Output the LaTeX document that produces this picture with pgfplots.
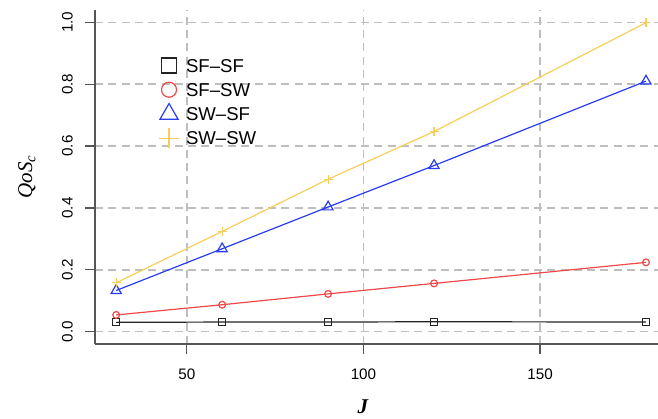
\documentclass[border=0pt]{standalone}
\usepackage{pgfplots}
\pgfplotsset{compat=1.18}
\usepackage{fontspec}
\setmainfont{Liberation Sans}
\newfontfamily\serif{Liberation Serif}
\definecolor{cblack}{RGB}{35,35,35}
\definecolor{cred}{RGB}{240,72,72}
\definecolor{cblue}{RGB}{40,60,245}
\definecolor{cyel}{RGB}{248,205,90}
\definecolor{axgray}{RGB}{85,85,85}
\definecolor{gridgray}{RGB}{190,190,190}
\pgfplotsset{legmark/.style={legend image code/.code={\draw[##1, mark size=#1, overlay] plot coordinates {(0pt,0pt)}; \path[draw=none] (-9pt,0pt) -- (16pt,0pt);}}}
\begin{document}
\begin{tikzpicture}[x=1pt,y=1pt]
\useasboundingbox (0,0) rectangle (658,418);
\begin{axis}[
  at={(95pt,74pt)}, anchor=south west,
  scale only axis, width=563pt, height=334pt,
  xmin=24, xmax=183.4, ymin=-0.04, ymax=1.04,
  axis lines=left,
  axis line style={-, line width=1.2pt, color=axgray},
  tick style={line width=1.2pt, color=axgray},
  tick align=outside, major tick length=10pt,
  xtick={50,100,150},
  ytick={0,0.2,0.4,0.6,0.8,1},
  grid=major,
  major grid style={line width=1.5pt, color=gridgray, dash pattern=on 8pt off 5.3pt},
  /pgf/number format/assume math mode=true,
  tick label style={font=\fontsize{15.2}{18}\selectfont, inner sep=0pt},
  yticklabel style={/pgf/number format/.cd, fixed, fixed zerofill, precision=1, /tikz/.cd, rotate=90, anchor=south},
  xticklabel style={anchor=north},
  yticklabel shift=12pt,
  xticklabel shift=14.3pt,
  xlabel={{\serif\bfseries\itshape J}},
  ylabel={{\serif\itshape QoS\textsubscript{c}}},
  label style={font=\fontsize{21}{24}\selectfont},
  x label style={at={(axis description cs:0.476,-0.1886)}, anchor=center},
  y label style={at={(axis description cs:-0.1208,0.5)}, anchor=center},
  legend style={at={(axis description cs:0.1155,0.862)}, anchor=north west, draw=none, fill=none,
    inner sep=0pt, outer sep=0pt, row sep=5.6pt, column sep=0pt, cells={anchor=west},
    nodes={inner sep=1pt, text height=15pt, text depth=1.7pt, font=\fontsize{18.6}{20}\selectfont}},
]
\addplot[color=cblack, line width=1.2pt, mark=square, mark size=3.5pt, mark options={solid}, legmark=7.5pt]
  coordinates {(30,0.030) (60,0.031) (90,0.031) (120,0.032) (180,0.031)};
\addlegendentry{SF–SF}
\addplot[color=cred, line width=1.2pt, mark=o, mark size=3.4pt, mark options={solid}, legmark=7.5pt]
  coordinates {(30,0.054) (60,0.087) (90,0.122) (120,0.156) (180,0.224)};
\addlegendentry{SF–SW}
\addplot[color=cblue, line width=1.2pt, mark=triangle, mark size=5.8pt, mark options={solid}, legmark=10.5pt]
  coordinates {(30,0.133) (60,0.268) (90,0.403) (120,0.537) (180,0.810)};
\addlegendentry{SW–SF}
\addplot[color=cyel, line width=1.2pt, mark=+, mark size=4.5pt, mark options={solid}, legmark=10pt]
  coordinates {(30,0.158) (60,0.324) (90,0.493) (120,0.647) (180,0.999)};
\addlegendentry{SW–SW}
\end{axis}
\end{tikzpicture}
\end{document}
